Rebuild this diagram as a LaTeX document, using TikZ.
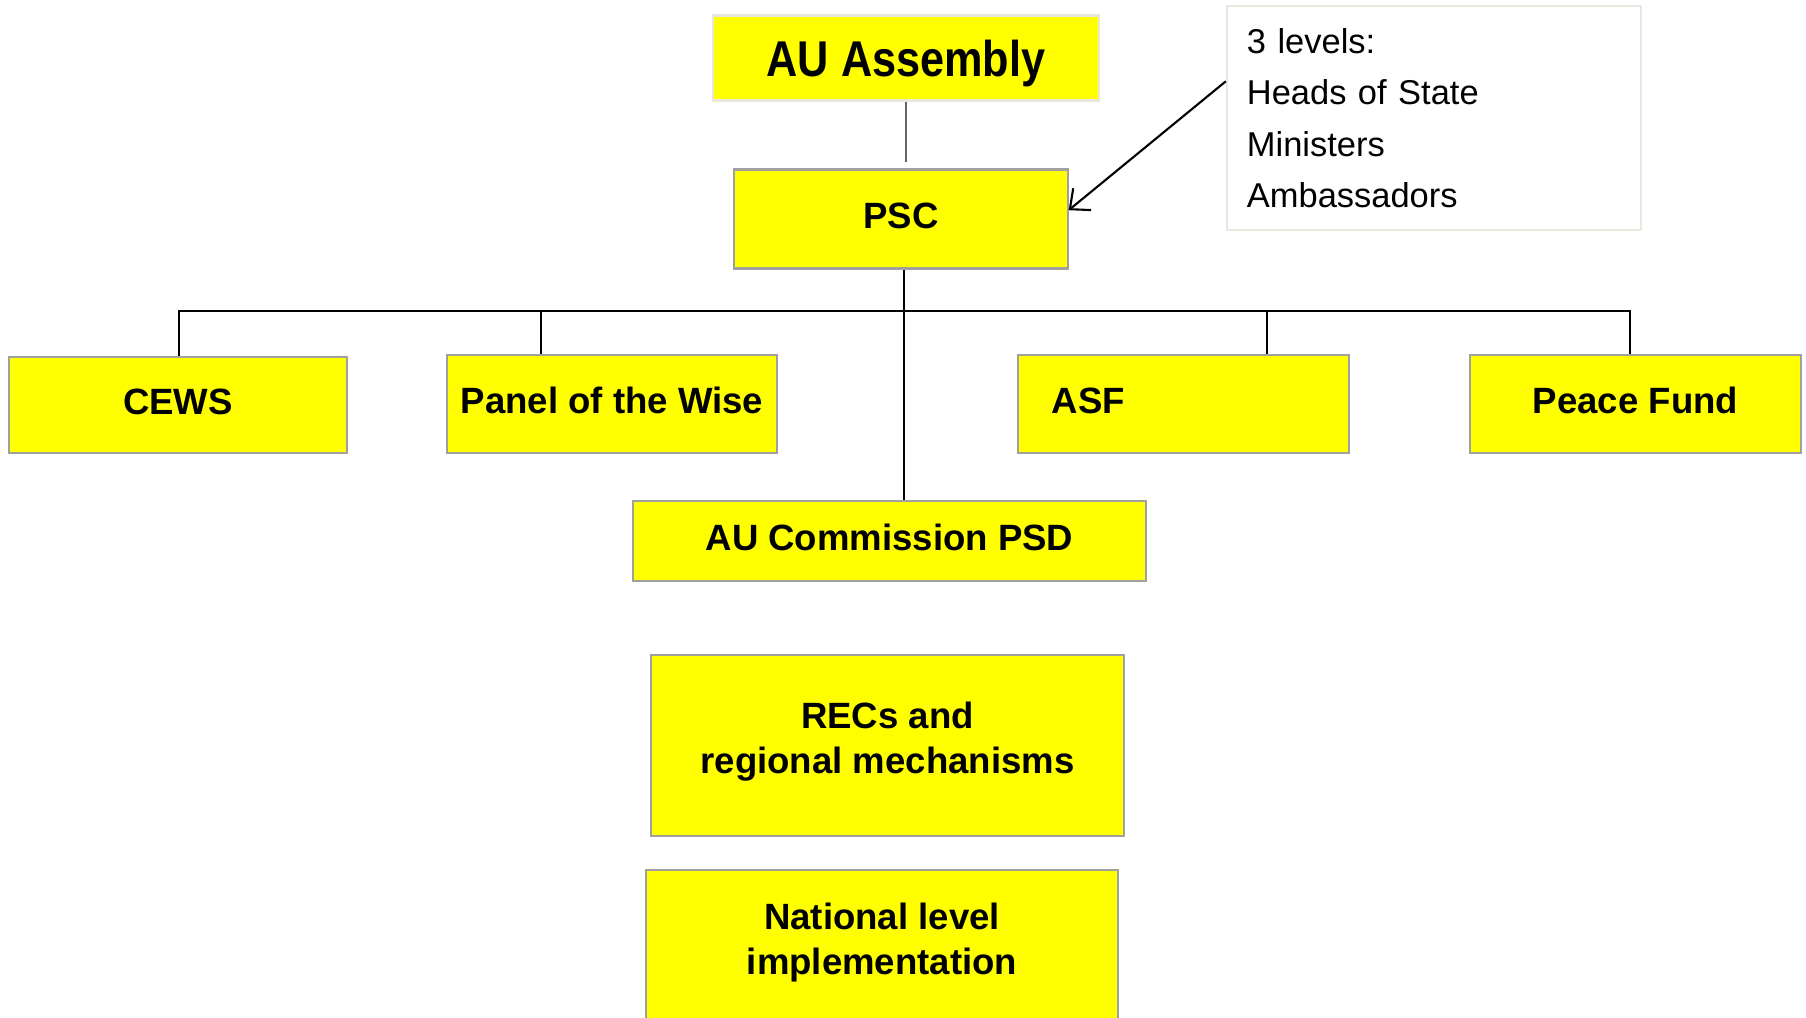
\documentclass[tikz,border=0pt]{standalone}
\usepackage{fontspec}
\setmainfont{Liberation Sans}
\newfontfamily\titlefont[FakeStretch=0.86]{Liberation Sans}
\usetikzlibrary{arrows.meta}
\definecolor{boxyellow}{RGB}{255,255,0}
\definecolor{boxgray}{RGB}{160,160,160}
\definecolor{paleedge}{RGB}{232,232,222}

\begin{document}
\begin{tikzpicture}[x=0.01cm,y=0.01cm,
  unit/.style={draw=boxgray,line width=0.6pt,fill=boxyellow,inner sep=0pt,
    font=\fontsize{10.4}{12.8}\selectfont\bfseries,align=center},
  oneline/.style={text height=0.3cm,text depth=0.118cm},
  link/.style={line width=0.6pt}]
  \useasboundingbox[fill=white] (0,0) rectangle (1806,1017);
  \node[unit,draw=paleedge,minimum width=3.85cm,minimum height=0.85cm,text depth=0pt,
    font=\titlefont\fontsize{14.3}{17}\selectfont\bfseries] (asm) at (906,959) {AU Assembly};
  \node[unit,oneline,minimum width=3.33cm,minimum height=0.99cm] (psc) at (901,798) {PSC};
  \node[draw=paleedge,line width=0.6pt,inner ysep=0pt,inner xsep=0.2cm,text width=3.74cm,
    minimum height=2.24cm,align=left,font=\fontsize{9.8}{14.65}\selectfont] (lvl) at (1434,899)
    {3 levels:\\Heads of State\\Ministers\\Ambassadors};
  \node[unit,oneline,minimum width=3.38cm,minimum height=0.96cm] (cews) at (178,612) {CEWS};
  \node[unit,oneline,minimum width=3.30cm,minimum height=0.98cm] (panel) at (612,613) {Panel of the Wise};
  \node[unit,oneline,text width=2.63cm,inner xsep=0.34cm,align=left,minimum height=0.98cm] (asf) at (1183.5,613) {ASF};
  \node[unit,oneline,minimum width=3.31cm,minimum height=0.98cm] (pf) at (1635.5,613) {Peace Fund};
  \node[unit,oneline,minimum width=5.13cm,minimum height=0.80cm] (psd) at (889.5,476) {AU Commission PSD};
  \node[unit,minimum width=4.73cm,minimum height=1.81cm,text depth=0.15cm] (recs) at (887.5,271.5) {RECs and\\regional mechanisms};
  \node[unit,minimum width=4.72cm,minimum height=2.00cm,text depth=0.63cm] (nat) at (882,47) {National level\\implementation};

  \coordinate (t1) at (179,706);
  \coordinate (t2) at (541,706);
  \coordinate (t3) at (1267,706);
  \coordinate (t4) at (1630,706);

  \draw[link,draw=black!60,shorten >=0.06cm] (asm.south) -- (asm.south |- psc.north);
  \draw[link] ([xshift=0.03cm]psc.south) -- ([xshift=0.03cm]psc.south |- psd.north);
  \draw[link] (t1 |- cews.north) -- (t1) -- (t4) -- (t4 |- pf.north);
  \draw[link] (t2) -- (t2 |- panel.north);
  \draw[link] (t3) -- (t3 |- asf.north);
  \draw[link,-{Straight Barb[length=4.5pt,width=8pt]}] (lvl.170) -- (psc.3);
\end{tikzpicture}
\end{document}
